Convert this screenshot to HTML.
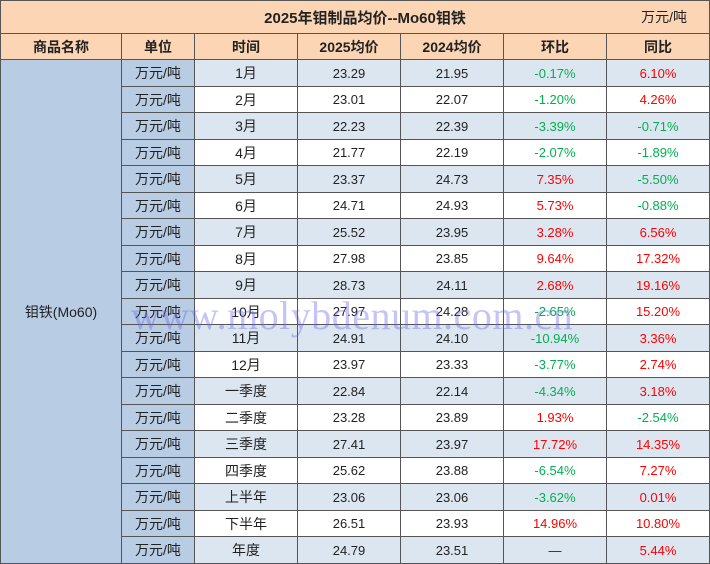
<!DOCTYPE html>
<html><head><meta charset="utf-8"><style>
body{margin:0;width:710px;height:564px;overflow:hidden;background:#fff;font-family:"Liberation Sans","Noto Sans CJK SC",sans-serif;}
.c{position:absolute;box-sizing:border-box;display:flex;align-items:center;justify-content:center;font-size:13px;color:#222;border-right:1px solid #555;border-bottom:1px solid #555;}
.g{color:#00b050}.r{color:#ff0000}
.wm{position:absolute;left:131px;top:292px;font-family:"Liberation Serif",serif;font-size:40px;color:rgba(100,100,230,0.38);white-space:nowrap;letter-spacing:0.5px;}
</style></head><body>
<div id="t"></div>
<script>
const X=[0,122,195,298,401,504,607,710];
const rows=[["1月","23.29","21.95","-0.17%","6.10%"],["2月","23.01","22.07","-1.20%","4.26%"],["3月","22.23","22.39","-3.39%","-0.71%"],["4月","21.77","22.19","-2.07%","-1.89%"],["5月","23.37","24.73","7.35%","-5.50%"],["6月","24.71","24.93","5.73%","-0.88%"],["7月","25.52","23.95","3.28%","6.56%"],["8月","27.98","23.85","9.64%","17.32%"],["9月","28.73","24.11","2.68%","19.16%"],["10月","27.97","24.28","-2.65%","15.20%"],["11月","24.91","24.10","-10.94%","3.36%"],["12月","23.97","23.33","-3.77%","2.74%"],["一季度","22.84","22.14","-4.34%","3.18%"],["二季度","23.28","23.89","1.93%","-2.54%"],["三季度","27.41","23.97","17.72%","14.35%"],["四季度","25.62","23.88","-6.54%","7.27%"],["上半年","23.06","23.06","-3.62%","0.01%"],["下半年","26.51","23.93","14.96%","10.80%"],["年度","24.79","23.51","—","5.44%"]];
let h='';
function cell(x0,x1,y0,y1,txt,st,cls){h+=`<div class="c ${cls||''}" style="left:${x0}px;top:${y0}px;width:${x1-x0}px;height:${y1-y0}px;${st||''}">${txt}</div>`;}
cell(0,710,0,34,'<span style="font-weight:bold;font-size:15px;margin-left:20px">2025年钼制品均价--Mo60钼铁</span><span style="position:absolute;right:22px;font-size:14px">万元/吨</span>','background:#fcd5b4;border-top:1px solid #555;border-left:1px solid #555;');
const hd=["商品名称","单位","时间","2025均价","2024均价","环比","同比"];
for(let i=0;i<7;i++)cell(X[i],X[i+1],34,60,hd[i],'background:#fcd5b4;font-weight:bold;font-size:14px;'+(i==0?'border-left:1px solid #555;':''));
cell(0,122,60,564,'钼铁(Mo60)','background:#b8cce4;font-size:14px;border-left:1px solid #555;');
rows.forEach((r,k)=>{const y0=Math.round(60+k*26.5),y1=Math.round(60+(k+1)*26.5);const bg=k%2==0?'#dce6f1':'#fff';
cell(122,195,y0,y1,'万元/吨','background:#b8cce4;font-size:14px;');
cell(195,298,y0,y1,r[0],'background:'+bg+';font-size:14px;');
cell(298,401,y0,y1,r[1],'background:'+bg);
cell(401,504,y0,y1,r[2],'background:'+bg);
cell(504,607,y0,y1,r[3],'background:'+bg,r[3].startsWith('-')?'g':(r[3]=='—'?'':'r'));
cell(607,710,y0,y1,r[4],'background:'+bg,r[4].startsWith('-')?'g':'r');});
h+='<div class="wm">www.molybdenum.com.cn</div>';
document.getElementById('t').innerHTML=h;
</script>
</body></html>
